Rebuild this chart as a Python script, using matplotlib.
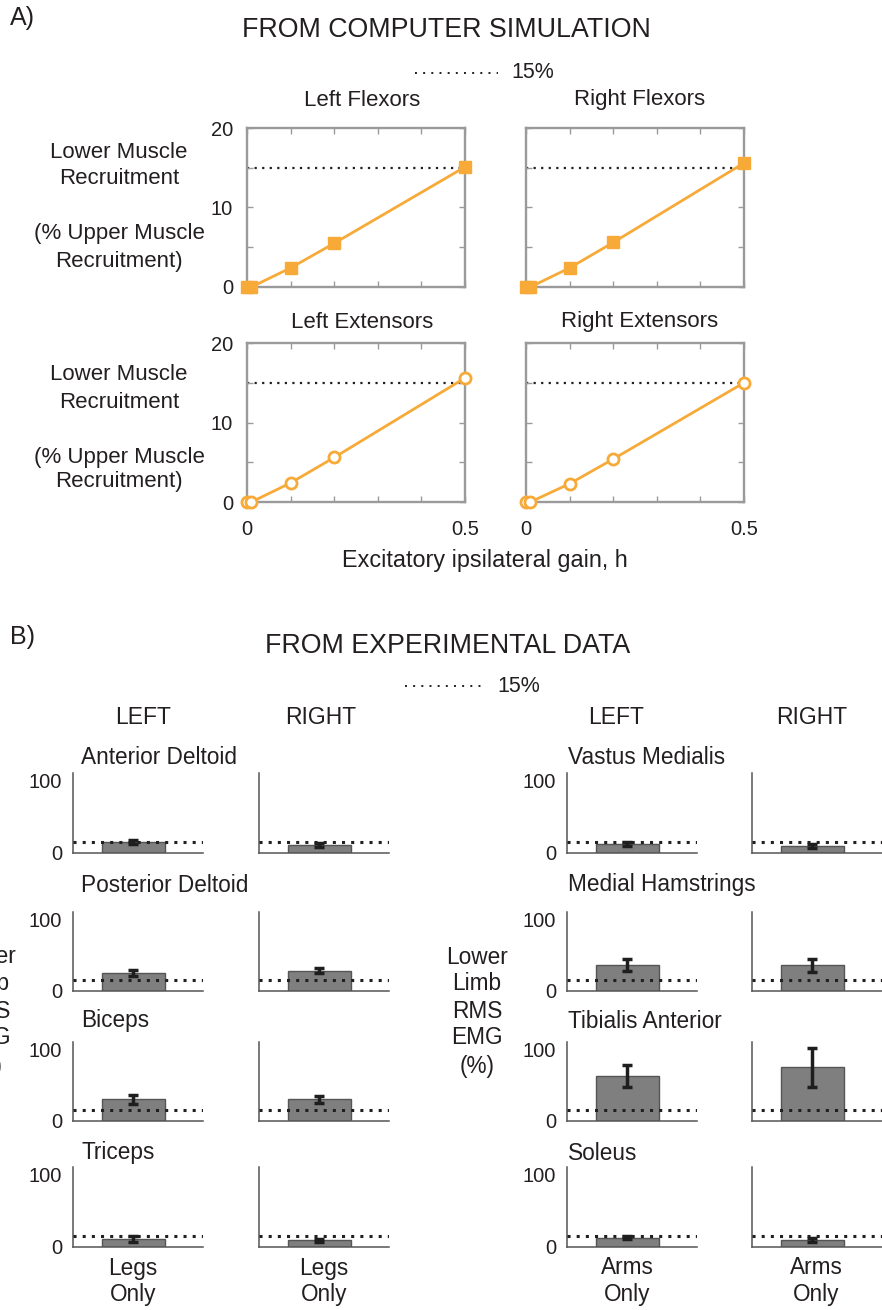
import matplotlib
matplotlib.use("Agg")
import matplotlib.pyplot as plt
from matplotlib.lines import Line2D
from matplotlib.ticker import FixedLocator

plt.rcParams['font.family'] = ['Liberation Sans', 'DejaVu Sans']

# ---------------- data ----------------
# simulation: lower-muscle recruitment vs excitatory ipsilateral gain
gain_h = [0, 0.01, 0.1, 0.2, 0.5]
left_flexors = [0, 0, 2.4, 5.5, 15.1]
right_flexors = [0, 0, 2.4, 5.6, 15.6]
left_extensors = [0, 0, 2.4, 5.6, 15.6]
right_extensors = [0, 0, 2.3, 5.4, 15.0]
threshold = 15

sim_titles = ["Left Flexors", "Right Flexors", "Left Extensors", "Right Extensors"]

# experiment: RMS EMG (%) mean and error
upper_muscles = ["Anterior Deltoid", "Posterior Deltoid", "Biceps", "Triceps"]
upper_left_mean = [15, 25, 30, 11]
upper_left_err = [3, 4, 6, 4]
upper_right_mean = [11, 28, 30, 9]
upper_right_err = [3, 3.5, 5.5, 2]

lower_muscles = ["Vastus Medialis", "Medial Hamstrings", "Tibialis Anterior", "Soleus"]
lower_left_mean = [12, 36, 63, 13]
lower_left_err = [3, 8, 15.5, 2.5]
lower_right_mean = [9.5, 36, 75, 9.5]
lower_right_err = [3, 9, 27, 2.5]

side_labels = ["LEFT", "RIGHT"]
condition_upper = "Legs\nOnly"
condition_lower = "Arms\nOnly"

# ---------------- layout helpers ----------------
W, H = 882, 1310
fig = plt.figure(figsize=(W / 100, H / 100), dpi=100)
TXT = '#231f20'
ORANGE = '#F7AA38'
BOX = '#9a9a9a'


def px_axes(x0, y0, x1, y1):
    return fig.add_axes([x0 / W, 1 - y1 / H, (x1 - x0) / W, (y1 - y0) / H])


def ftext(x, y, s, size=16, ha='center', va='center', **kw):
    fig.text(x / W, 1 - y / H, s, fontsize=size, ha=ha, va=va, color=TXT, **kw)


def fline(x0, x1, y, lw, dashes):
    ln = Line2D([x0 / W, x1 / W], [1 - y / H, 1 - y / H], transform=fig.transFigure,
                color='#231f20', lw=lw, linestyle=(0, dashes))
    fig.add_artist(ln)


# ---------------- panel A ----------------
ftext(10, 18, "A)", size=18, ha='left')
ftext(446, 30, "FROM COMPUTER SIMULATION", size=19.3)
fline(415, 498, 73, 1.4, (1, 3.2))
ftext(511, 73, "15%", size=15.5, ha='left')

sim_series = [left_flexors, right_flexors, left_extensors, right_extensors]
sim_boxes = [(247, 128, 465, 287), (526, 128, 744, 287),
             (247, 343, 465, 502), (526, 343, 744, 502)]
title_pos = [(362, 100), (640, 100), (362, 322), (640, 322)]

for i, (vals, box) in enumerate(zip(sim_series, sim_boxes)):
    ax = px_axes(*box)
    ax.set_xlim(0, 0.5)
    ax.set_ylim(0, 20)
    ax.axhline(threshold, color='#231f20', lw=1.6, linestyle=(0, (1, 2.4)), zorder=1)
    if i < 2:
        ax.plot(gain_h, vals, color=ORANGE, lw=2.0, marker='s', markersize=9,
                markerfacecolor=ORANGE, markeredgecolor=ORANGE, clip_on=False, zorder=3)
    else:
        ax.plot(gain_h, vals, color=ORANGE, lw=2.0, marker='o', markersize=8,
                markerfacecolor='white', markeredgecolor=ORANGE, markeredgewidth=2.0,
                clip_on=False, zorder=3)
    for sp in ax.spines.values():
        sp.set_color(BOX)
        sp.set_linewidth(1.7)
    ax.xaxis.set_major_locator(FixedLocator([0, 0.5]))
    ax.xaxis.set_minor_locator(FixedLocator([0.1, 0.2, 0.3, 0.4]))
    ax.yaxis.set_major_locator(FixedLocator([0, 10, 20]))
    ax.yaxis.set_minor_locator(FixedLocator([5, 15]))
    ax.tick_params(which='both', direction='in', top=True, right=True, color=BOX,
                   length=4, width=1, labelsize=14.5, labelcolor=TXT)
    ax.tick_params(axis='y', pad=10)
    ax.tick_params(axis='x', pad=13)
    if i % 2 == 1:
        ax.set_yticklabels([])
    else:
        ax.set_yticklabels(['0', '10', '20'])
    if i < 2:
        ax.set_xticklabels([])
    else:
        ax.set_xticklabels(['0', '0.5'])
    ftext(title_pos[i][0], title_pos[i][1], sim_titles[i], size=16)

for ys in [(152, 179, 234, 261), (375, 402, 457, 482)]:
    ftext(119, ys[0], "Lower Muscle", size=16)
    ftext(119, ys[1], "Recruitment", size=16)
    ftext(119, ys[2], "(% Upper Muscle", size=16)
    ftext(119, ys[3], "Recruitment)", size=16)

ftext(485, 560, "Excitatory ipsilateral gain, h", size=16.8)

# ---------------- panel B ----------------
ftext(10, 637, "B)", size=18, ha='left')
ftext(448, 646, "FROM EXPERIMENTAL DATA", size=19.3)
fline(405, 486, 686, 1.4, (1, 3.2))
ftext(497, 686, "15%", size=15.5, ha='left')

ftext(143, 718, side_labels[0], size=16.5)
ftext(321, 718, side_labels[1], size=16.5)
ftext(616, 718, side_labels[0], size=16.5)
ftext(812, 718, side_labels[1], size=16.5)

rows_y = [(773, 853), (912, 991), (1042, 1121), (1167, 1247)]
cols_x = [(73, 203), (259, 389), (567, 697), (752, 882)]
title_y = [757, 885, 1021, 1153]

groups = [
    (upper_muscles, upper_left_mean, upper_left_err, upper_right_mean, upper_right_err, 0, 81),
    (lower_muscles, lower_left_mean, lower_left_err, lower_right_mean, lower_right_err, 2, 568),
]

for names, lm, le, rm, re, c0, tx in groups:
    for r in range(4):
        for side in range(2):
            x0, x1 = cols_x[c0 + side]
            y0, y1 = rows_y[r]
            ax = px_axes(x0, y0, x1, y1)
            mean = lm[r] if side == 0 else rm[r]
            err = le[r] if side == 0 else re[r]
            ax.bar([1], [mean], width=0.8, color='#7f7f7f', edgecolor='#555555',
                   linewidth=1, zorder=2)
            ax.axhline(threshold, color='#231f20', lw=2.2, linestyle=(0, (1, 2.0)), zorder=3)
            ax.errorbar([1], [mean], yerr=[err], fmt='none', ecolor='#1e1e1e',
                        elinewidth=2.5, capsize=3.5, capthick=2.5, zorder=4)
            ax.set_xlim(0.23, 1.89)
            ax.set_ylim(0, 110)
            for s in ('top', 'right'):
                ax.spines[s].set_visible(False)
            for s in ('left', 'bottom'):
                ax.spines[s].set_color('#555555')
                ax.spines[s].set_linewidth(1.1)
            ax.set_xticks([])
            ax.set_yticks([0, 100])
            ax.tick_params(axis='y', length=0, pad=8, labelsize=14.5, labelcolor=TXT)
            if side == 1:
                ax.set_yticklabels([])
        ftext(tx, title_y[r], names[r], size=16.3, ha='left')

# y-axis descriptions for panel B (the left one runs off the left edge)
yl = [957, 984, 1011, 1038, 1066]
for y, s in zip(yl, ["Upper", "Limb", "RMS", "EMG", "(%)"]):
    ftext(-15, y, s, size=16.3)
for y, s in zip(yl, ["Lower", "Limb", "RMS", "EMG", "(%)"]):
    ftext(477, y, s, size=16.3)

# condition labels under each column
for cx, lab in [(133, condition_upper), (324, condition_upper),
                (627, condition_lower), (816, condition_lower)]:
    top, bottom = lab.split("\n")
    ftext(cx, 1268, top, size=16.3)
    ftext(cx, 1294, bottom, size=16.3)

fig.savefig("out.png", dpi=100)
